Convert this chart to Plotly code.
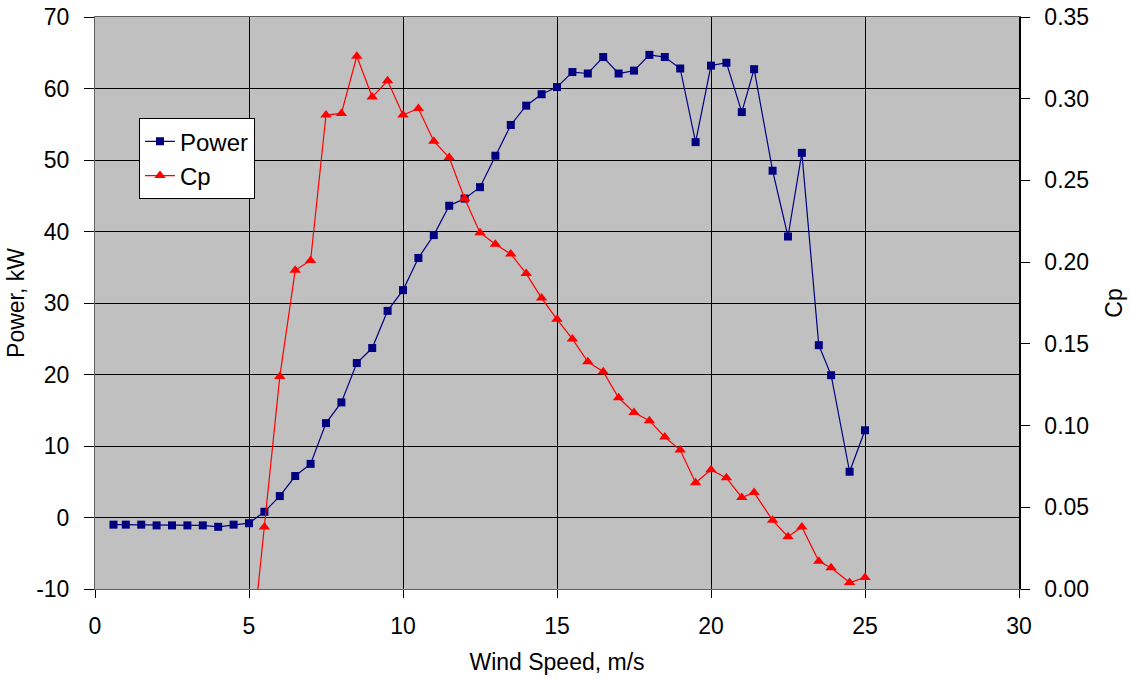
import plotly.graph_objects as go

wind = [0.6, 1.0, 1.5, 2.0, 2.5, 3.0, 3.5, 4.0, 4.5, 5.0, 5.5, 6.0, 6.5, 7.0, 7.5, 8.0, 8.5, 9.0, 9.5, 10.0,
        10.5, 11.0, 11.5, 12.0, 12.5, 13.0, 13.5, 14.0, 14.5, 15.0, 15.5, 16.0, 16.5, 17.0, 17.5, 18.0, 18.5,
        19.0, 19.5, 20.0, 20.5, 21.0, 21.4, 22.0, 22.5, 22.95, 23.5, 23.9, 24.5, 25.0]

power = [-1.0, -1.0, -1.0, -1.1, -1.1, -1.1, -1.1, -1.3, -1.0, -0.8, 0.8, 3.0, 5.8, 7.5, 13.2, 16.1, 21.6, 23.7, 28.9, 31.8,
         36.3, 39.5, 43.6, 44.6, 46.2, 50.6, 54.9, 57.6, 59.2, 60.2, 62.3, 62.1, 64.4, 62.1, 62.5, 64.7, 64.4,
         62.8, 52.5, 63.2, 63.6, 56.7, 62.7, 48.5, 39.3, 51.0, 24.1, 19.9, 6.4, 12.2]

cp = [None, None, None, None, None, None, None, None, None, -0.053, 0.038, 0.130, 0.195, 0.201, 0.290, 0.291, 0.326, 0.301, 0.311, 0.290,
      0.294, 0.274, 0.264, 0.239, 0.218, 0.211, 0.205, 0.193, 0.178, 0.165, 0.153, 0.139, 0.133, 0.117, 0.108, 0.103, 0.093,
      0.085, 0.065, 0.073, 0.068, 0.056, 0.059, 0.042, 0.032, 0.038, 0.017, 0.013, 0.004, 0.007]

power_ticks = [-10, 0, 10, 20, 30, 40, 50, 60, 70]
power_ticktext = ["-10", "0", "10", "20", "30", "40", "50", "60", "70"]

FONT = "Liberation Sans, Arial, sans-serif"

fig = go.Figure()
fig.add_trace(go.Scatter(x=wind, y=power, name="Power", mode="lines+markers",
                         line=dict(color="#000080", width=1.2),
                         marker=dict(symbol="square", size=8, color="#000080")))
fig.add_trace(go.Scatter(x=wind, y=cp, name="Cp", mode="lines+markers", yaxis="y2",
                         line=dict(color="#FF0000", width=1.2),
                         marker=dict(symbol="triangle-up", size=10, color="#FF0000")))

fig.update_layout(
    width=1130, height=679,
    margin=dict(l=95, r=111, t=17, b=90, autoexpand=False),
    paper_bgcolor="white",
    plot_bgcolor="#C0C0C0",
    font=dict(family=FONT, size=23, color="black"),
    showlegend=True,
    legend=dict(x=0.0476, y=0.823, xanchor="left", yanchor="top",
                bgcolor="white", bordercolor="black", borderwidth=1,
                font=dict(size=24), tracegroupgap=0, itemwidth=30),
    xaxis=dict(range=[0, 30], dtick=5, tick0=0, showgrid=True, gridcolor="black", gridwidth=1,
               showline=True, linecolor="#606060", linewidth=1, mirror=True,
               ticks="outside", ticklen=8, tickcolor="black", zeroline=False,
               ticklabelstandoff=8, automargin=False,
               title=dict(text="Wind Speed, m/s", font=dict(size=23), standoff=16)),
    yaxis=dict(range=[-10, 70], tickvals=power_ticks, ticktext=power_ticktext,
               showgrid=True, gridcolor="black", gridwidth=1,
               showline=True, linecolor="#606060", linewidth=1,
               ticks="outside", ticklen=10, tickcolor="black", zeroline=False,
               ticklabelstandoff=10, automargin=False,
               title=dict(text="Power, kW", font=dict(size=23), standoff=5)),
    yaxis2=dict(range=[0, 0.35], dtick=0.05, tick0=0, overlaying="y", side="right",
                showgrid=False, showline=True, linecolor="black", linewidth=1.5,
                ticks="outside", ticklen=9, tickcolor="black", tickformat=".2f", zeroline=False,
                ticklabelstandoff=10, automargin=False,
                title=dict(text="Cp", font=dict(size=23), standoff=18)),
)

fig.write_html("out.html")
